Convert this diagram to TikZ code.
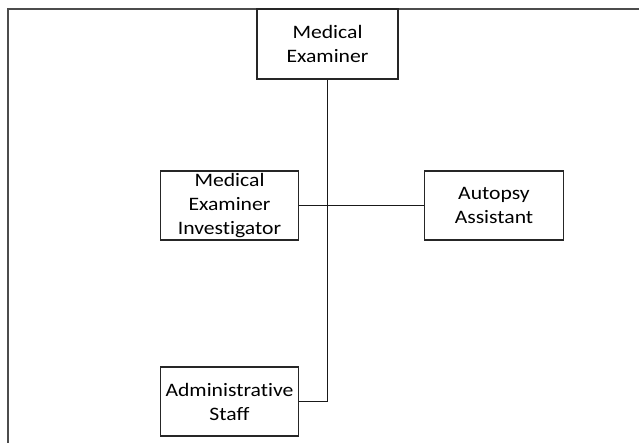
\documentclass[tikz,border=0pt]{standalone}
\usepackage{fontspec}
\setmainfont{Carlito}[FakeStretch=1.14, RawFeature=-liga]
\begin{document}
\begin{tikzpicture}[x=1pt,y=-1pt,
  box/.style={draw=black!85, line width=1.6pt, inner sep=0pt, align=center,
    minimum width=138pt, minimum height=69pt,
    font=\fontsize{19}{24}\selectfont},
  conn/.style={draw=black!90, line width=1.6pt},
  frameline/.style={draw=black!70, line width=1.4pt}]
\useasboundingbox (0,0) rectangle (639,443);
\draw[frameline] (8,443) -- (8,9) -- (639,9);
\node[box, minimum width=141pt, minimum height=70pt] (me) at (327.5,44) {Medical\\Examiner};
\node[box] (mei) at (229.5,205.5) {Medical\\Examiner\\Investigator};
\node[box, minimum width=139pt] (aa) at (494,205.5) {Autopsy\\Assistant};
\node[box] (adm) at (229.5,401.5) {Administrative\\Staff};
\draw[conn] (me.south) -- (me.south |- adm.east) -- (adm.east);
\draw[conn] (mei.east) -- (aa.west);
\end{tikzpicture}
\end{document}
